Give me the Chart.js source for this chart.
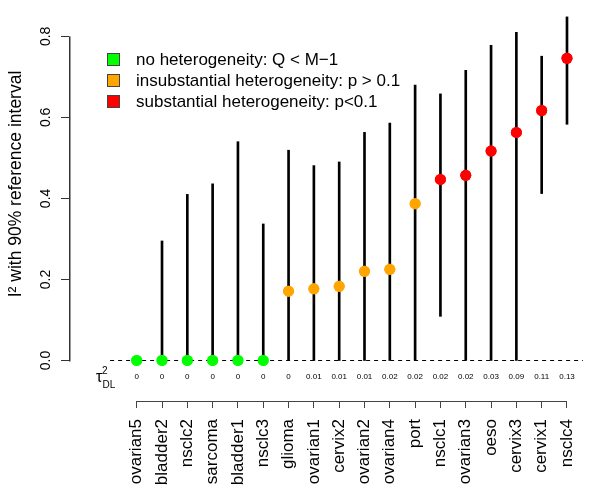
<!DOCTYPE html>
<html lang="en">
<head>
  <meta charset="UTF-8" />
  <title>I² with 90% reference interval</title>
  <script src="https://cdn.jsdelivr.net/npm/chart.js"></script>
  <style>
    body { margin: 0; background: #fff; }
    #i2Chart { display: block; }
  </style>
</head>
<body>
  <canvas id="i2Chart" width="600" height="499"></canvas>

  <script>
    // data
    const studies = ['ovarian5', 'bladder2', 'nsclc2', 'sarcoma', 'bladder1', 'nsclc3',
                     'glioma', 'ovarian1', 'cervix2', 'ovarian2', 'ovarian4', 'port',
                     'nsclc1', 'ovarian3', 'oeso', 'cervix3', 'cervix1', 'nsclc4'];
    const i2    = [0, 0, 0, 0, 0, 0, 0.171, 0.177, 0.183, 0.220, 0.225, 0.387,
                   0.447, 0.457, 0.517, 0.563, 0.617, 0.746];
    const lower = [0, 0, 0, 0, 0, 0, 0, 0, 0, 0, 0, 0,
                   0.109, 0, 0, 0, 0.412, 0.583];
    const upper = [0, 0.295, 0.410, 0.436, 0.540, 0.337, 0.519, 0.481, 0.490, 0.563, 0.586, 0.680,
                   0.658, 0.716, 0.778, 0.810, 0.751, 0.848];
    const tau2  = ['0', '0', '0', '0', '0', '0', '0', '0.01', '0.01', '0.01', '0.02', '0.02',
                   '0.02', '0.02', '0.03', '0.09', '0.11', '0.13'];
    const group = [0, 0, 0, 0, 0, 0, 1, 1, 1, 1, 1, 1, 2, 2, 2, 2, 2, 2];
    const groupLabels = ['no heterogeneity: Q < M\u22121',
                         'insubstantial heterogeneity: p > 0.1',
                         'substantial heterogeneity: p<0.1'];
    const groupColors = ['#00ff00', '#ffa500', '#ff0000'];
    const yTicks = [0, 0.2, 0.4, 0.6, 0.8];
    const yTitle = 'I\u00b2 with 90% reference interval';
    const baseFrom = -0.05, baseTo = 18.63; // extent of the dashed zero line (x units)

    const FONT = "'Liberation Sans', Arial, Helvetica, sans-serif";
    Chart.defaults.font.family = FONT;

    // extra drawing R does by hand: axis lines, rotated y labels, zero line, tau row, legend
    const extras = {
      id: 'extras',
      afterDraw(chart) {
        const ctx = chart.ctx;
        const xs = chart.scales.x, ys = chart.scales.y;
        const axisX = Math.round(chart.chartArea.left) - 3;
        const y0 = ys.getPixelForValue(0);
        const y8 = ys.getPixelForValue(0.8);
        ctx.save();

        // y title and tick labels, vertical
        ctx.fillStyle = '#000';
        ctx.textAlign = 'center';
        ctx.textBaseline = 'middle';
        ctx.save();
        ctx.translate(16, 184);
        ctx.rotate(-Math.PI / 2);
        ctx.font = '17.5px ' + FONT;
        ctx.fillText(yTitle, 0, 0);
        ctx.restore();
        ctx.font = '14px ' + FONT;
        yTicks.forEach(v => {
          ctx.save();
          ctx.translate(axisX - 23, ys.getPixelForValue(v));
          ctx.rotate(-Math.PI / 2);
          ctx.fillText(v.toFixed(1), 0, 0);
          ctx.restore();
        });

        // y axis: line from 0 to 0.8 plus tick marks
        ctx.fillStyle = '#333';
        ctx.fillRect(axisX, y8, 1.5, y0 - y8 + 1);
        yTicks.forEach(v => {
          ctx.fillRect(axisX - 8, Math.round(ys.getPixelForValue(v)), 8, 1);
        });

        // x axis line from first to last study
        ctx.fillStyle = '#444';
        const xa = xs.getPixelForValue(1), xb = xs.getPixelForValue(studies.length);
        ctx.fillRect(xa, Math.round(xs.top), xb - xa, 1);

        // dashed zero line
        ctx.strokeStyle = '#000';
        ctx.lineWidth = 1;
        ctx.setLineDash([4, 4]);
        ctx.beginPath();
        ctx.moveTo(xs.getPixelForValue(baseFrom), y0);
        ctx.lineTo(xs.getPixelForValue(baseTo), y0);
        ctx.stroke();
        ctx.setLineDash([]);

        // redraw the dots over the dashed line
        chart.getDatasetMeta(0).data.forEach(p => p.draw(ctx));

        // tau^2 row
        ctx.fillStyle = '#000';
        ctx.font = '8px ' + FONT;
        ctx.textAlign = 'center';
        tau2.forEach((t, i) => {
          ctx.fillText(t, xs.getPixelForValue(i + 1), y0 + 16);
        });
        ctx.textAlign = 'left';
        ctx.textBaseline = 'alphabetic';
        ctx.font = '16px ' + FONT;
        ctx.fillText('\u03c4', 96, y0 + 22);
        ctx.font = '10px ' + FONT;
        ctx.fillText('2', 102, y0 + 14);
        ctx.fillText('DL', 102.5, y0 + 28);

        // legend
        ctx.font = '17px ' + FONT;
        ctx.textBaseline = 'middle';
        groupLabels.forEach((lab, k) => {
          const cy = 59 + k * 21;
          ctx.fillStyle = groupColors[k];
          ctx.fillRect(107, cy - 6, 12, 12);
          ctx.strokeStyle = '#444';
          ctx.strokeRect(107.5, cy - 5.5, 12, 12);
          ctx.fillStyle = '#000';
          ctx.fillText(lab, 136, cy + 1);
        });

        ctx.restore();
      }
    };

    const ctx = document.getElementById('i2Chart').getContext('2d');
    new Chart(ctx, {
      type: 'bar',
      data: {
        datasets: [
          {
            type: 'scatter',
            data: i2.map((v, i) => ({ x: i + 1, y: v })),
            pointRadius: 5.5,
            pointBorderWidth: 0,
            pointBackgroundColor: group.map(g => groupColors[g])
          },
          {
            type: 'bar',
            data: studies.map((s, i) => ({ x: i + 1, y: [lower[i], upper[i]] })),
            backgroundColor: '#000',
            borderWidth: 0,
            barThickness: 2
          }
        ]
      },
      options: {
        responsive: false,
        animation: false,
        layout: { padding: { top: 8, right: 10, bottom: 0, left: 0 } },
        plugins: { legend: { display: false }, tooltip: { enabled: false } },
        scales: {
          x: {
            type: 'linear',
            offset: false,
            min: -1.556, max: 18.909,
            afterBuildTicks: s => { s.ticks = studies.map((_, i) => ({ value: i + 1 })); },
            afterFit: s => { s.height = 98; },
            border: { display: false },
            grid: { offset: false, drawOnChartArea: false, tickLength: 7, color: '#444' },
            ticks: {
              autoSkip: false, minRotation: 90, maxRotation: 90, padding: 11,
              color: '#000', font: { size: 17 },
              callback: v => studies[v - 1]
            }
          },
          y: {
            min: -0.1, max: 0.87,
            afterBuildTicks: s => { s.ticks = yTicks.map(v => ({ value: v })); },
            afterFit: s => { s.width = 72; },
            border: { display: false },
            grid: { display: false },
            ticks: { display: false }
          }
        }
      },
      plugins: [extras]
    });
  </script>
</body>
</html>
